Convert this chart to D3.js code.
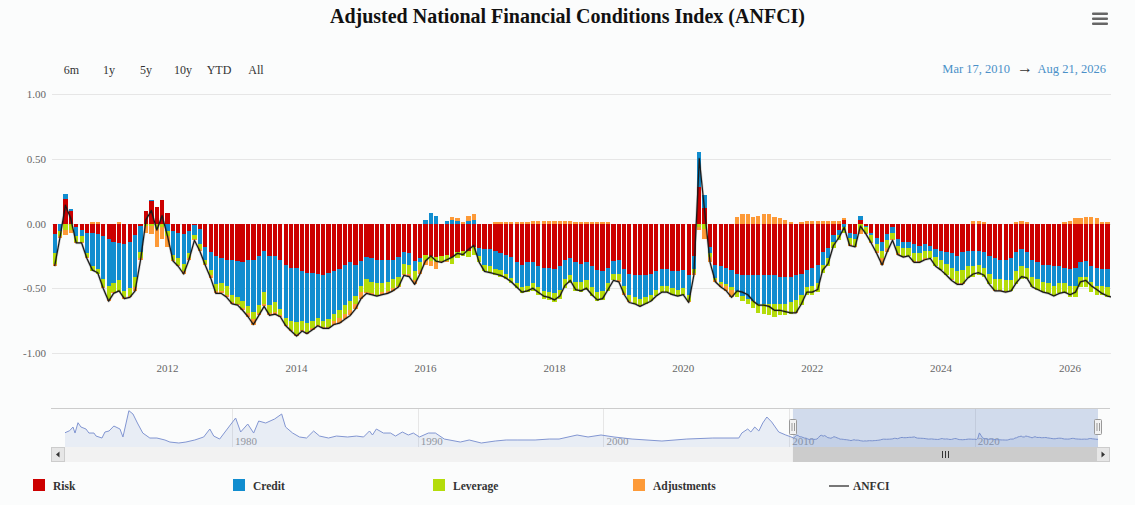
<!DOCTYPE html>
<html>
<head>
<meta charset="utf-8">
<script src="https://cdn.jsdelivr.net/npm/d3@7"></script>
<style>
  body { margin: 0; background: #fbfcfc; }
  svg { display: block; font-family: "Liberation Serif", "DejaVu Serif", serif; }
</style>
</head>
<body>
<div id="chart"></div>
<script>
// Monthly contributions to the ANFCI, Mar 2010 .. Aug 2026
const riskValues = [
  -0.08, 0.00, 0.19, 0.10, -0.03, -0.05, -0.07, -0.07, -0.08, -0.10,
  -0.12, -0.14, -0.15, -0.16, -0.14, -0.09, -0.02, 0.10, 0.17, 0.13, 0.18, 0.08,
  -0.06, -0.07, -0.08, -0.06, -0.01, -0.04, -0.18, -0.22, -0.25, -0.27, -0.28, -0.28,
  -0.29, -0.30, -0.28, -0.28, -0.25, -0.21, -0.25, -0.25, -0.28, -0.32, -0.34, -0.34,
  -0.37, -0.38, -0.38, -0.39, -0.40, -0.38, -0.37, -0.35, -0.32, -0.30, -0.32, -0.29,
  -0.26, -0.27, -0.28, -0.28, -0.28, -0.28, -0.26, -0.22, -0.23, -0.29, -0.27, -0.24,
  -0.25, -0.26, -0.25, -0.24, -0.26, -0.22, -0.21, -0.21, -0.18, -0.19, -0.20, -0.20,
  -0.21, -0.23, -0.24, -0.26, -0.30, -0.32, -0.30, -0.30, -0.33, -0.34, -0.34, -0.35,
  -0.33, -0.28, -0.27, -0.30, -0.31, -0.30, -0.33, -0.36, -0.37, -0.34, -0.29, -0.28,
  -0.35, -0.39, -0.40, -0.40, -0.40, -0.39, -0.37, -0.35, -0.35, -0.37, -0.37, -0.36,
  -0.40, -0.25, 0.28, 0.12, -0.18, -0.32, -0.33, -0.34, -0.36, -0.39, -0.40, -0.40,
  -0.40, -0.40, -0.40, -0.40, -0.40, -0.41, -0.41, -0.41, -0.40, -0.39, -0.36, -0.34,
  -0.32, -0.22, -0.19, -0.09, -0.05, 0.03, -0.07, -0.08, 0.03, -0.02, -0.07, -0.11,
  -0.14, -0.08, -0.03, -0.12, -0.14, -0.14, -0.16, -0.17, -0.16, -0.17, -0.20, -0.21,
  -0.22, -0.23, -0.25, -0.22, -0.21, -0.21, -0.21, -0.22, -0.25, -0.27, -0.28, -0.28,
  -0.27, -0.22, -0.20, -0.22, -0.28, -0.30, -0.32, -0.32, -0.33, -0.33, -0.34, -0.35,
  -0.34, -0.30, -0.29, -0.33, -0.34, -0.35, -0.35, -0.36
];
const creditValues = [
  -0.15, -0.06, 0.04, 0.01, -0.07, -0.05, -0.16, -0.26, -0.27, -0.33,
  -0.36, -0.32, -0.29, -0.36, -0.36, -0.32, -0.20, 0.00, 0.01, 0.00, 0.00, -0.06,
  -0.18, -0.20, -0.23, -0.17, -0.08, -0.12, -0.10, -0.14, -0.22, -0.19, -0.20, -0.27,
  -0.28, -0.30, -0.36, -0.40, -0.38, -0.32, -0.38, -0.36, -0.38, -0.41, -0.41, -0.42,
  -0.38, -0.39, -0.37, -0.34, -0.35, -0.36, -0.33, -0.32, -0.31, -0.30, -0.24, -0.19,
  -0.17, -0.18, -0.18, -0.18, -0.17, -0.15, -0.15, -0.09, -0.09, -0.08, -0.03, 0.03,
  0.08, 0.06, 0.00, 0.02, 0.03, 0.02, 0.00, 0.02, 0.03, -0.06, -0.12, -0.13,
  -0.14, -0.13, -0.15, -0.16, -0.16, -0.17, -0.18, -0.16, -0.16, -0.18, -0.19, -0.19,
  -0.18, -0.15, -0.13, -0.15, -0.14, -0.14, -0.16, -0.17, -0.15, -0.12, -0.10, -0.11,
  -0.13, -0.16, -0.17, -0.18, -0.17, -0.16, -0.14, -0.13, -0.13, -0.13, -0.14, -0.14,
  -0.15, -0.10, 0.27, 0.10, -0.05, -0.10, -0.12, -0.13, -0.13, -0.13, -0.16, -0.18,
  -0.20, -0.22, -0.22, -0.22, -0.22, -0.21, -0.21, -0.20, -0.19, -0.16, -0.13, -0.14,
  -0.14, -0.10, -0.08, -0.05, -0.04, -0.03, -0.04, -0.04, 0.03, -0.01, -0.02, -0.05,
  -0.07, -0.05, -0.04, -0.05, -0.05, -0.05, -0.07, -0.06, -0.05, -0.04, -0.06, -0.07,
  -0.09, -0.11, -0.12, -0.14, -0.12, -0.12, -0.11, -0.12, -0.14, -0.16, -0.15, -0.16,
  -0.17, -0.15, -0.13, -0.12, -0.13, -0.13, -0.13, -0.14, -0.15, -0.13, -0.12, -0.13,
  -0.14, -0.11, -0.12, -0.12, -0.14, -0.13, -0.14, -0.14
];
const leverageValues = [
  -0.08, -0.04, -0.05, -0.05, -0.04, -0.04, -0.03, -0.04, -0.04, -0.06,
  -0.10, -0.07, -0.09, -0.05, -0.06, -0.08, -0.05, -0.02, -0.02, -0.04, -0.03, -0.04,
  -0.04, -0.05, -0.06, -0.04, -0.03, -0.04, -0.03, -0.04, -0.05, -0.06, -0.07, -0.06,
  -0.05, -0.05, -0.05, -0.06, -0.06, -0.09, -0.06, -0.07, -0.05, -0.05, -0.07, -0.09,
  -0.07, -0.07, -0.06, -0.05, -0.05, -0.06, -0.05, -0.06, -0.07, -0.07, -0.06, -0.05,
  -0.10, -0.09, -0.09, -0.07, -0.07, -0.07, -0.07, -0.08, -0.07, -0.07, -0.06, -0.04,
  -0.04, -0.04, -0.04, -0.05, -0.05, -0.05, -0.04, -0.05, -0.06, -0.05, -0.05, -0.05,
  -0.05, -0.05, -0.04, -0.04, -0.04, -0.05, -0.05, -0.06, -0.06, -0.06, -0.06, -0.07,
  -0.07, -0.07, -0.06, -0.07, -0.08, -0.07, -0.07, -0.07, -0.07, -0.06, -0.05, -0.05,
  -0.06, -0.05, -0.05, -0.05, -0.05, -0.05, -0.05, -0.05, -0.05, -0.05, -0.05, -0.05,
  -0.05, -0.03, -0.03, -0.04, -0.03, -0.02, -0.02, -0.01, -0.02, -0.05, -0.04, -0.04,
  -0.05, -0.07, -0.08, -0.09, -0.10, -0.09, -0.09, -0.09, -0.09, -0.08, -0.06, -0.07,
  -0.07, -0.06, -0.06, -0.05, -0.04, -0.04, -0.05, -0.05, -0.05, -0.04, -0.05, -0.05,
  -0.06, -0.06, -0.05, -0.06, -0.06, -0.06, -0.06, -0.06, -0.06, -0.06, -0.07, -0.08,
  -0.09, -0.09, -0.09, -0.10, -0.09, -0.08, -0.08, -0.07, -0.08, -0.08, -0.08, -0.08,
  -0.08, -0.10, -0.10, -0.09, -0.08, -0.08, -0.08, -0.08, -0.08, -0.08, -0.08, -0.09,
  -0.09, -0.08, -0.08, -0.08, -0.07, -0.07, -0.08, -0.09
];
const adjustmentValues = [
  -0.02, -0.01, -0.04, -0.02, -0.01, -0.01, -0.01, 0.01, 0.01, -0.01,
  -0.02, -0.01, 0.01, -0.01, -0.01, -0.03, -0.01, -0.05, -0.06, -0.14, -0.09, -0.08,
  -0.01, -0.01, -0.02, -0.01, -0.01, -0.01, -0.01, -0.02, -0.02, -0.02, -0.02, -0.01,
  -0.01, -0.02, -0.03, -0.04, -0.02, -0.02, -0.02, -0.02, -0.01, -0.01, -0.01, -0.02,
  -0.01, -0.01, -0.01, -0.01, -0.01, -0.01, -0.03, -0.04, -0.04, -0.04, -0.04, -0.05,
  -0.01, -0.01, -0.01, -0.02, -0.02, -0.02, -0.01, -0.01, -0.02, -0.03, -0.03, -0.04,
  -0.04, -0.05, -0.01, -0.01, 0.02, 0.02, 0.01, 0.04, 0.04, 0.00, 0.00, 0.00,
  0.01, 0.01, 0.01, 0.01, 0.01, 0.01, 0.01, 0.02, 0.02, 0.02, 0.02, 0.02,
  0.02, 0.02, 0.02, 0.01, 0.01, 0.01, 0.01, 0.01, 0.01, 0.01, 0.00, -0.01,
  -0.01, -0.01, 0.00, -0.01, 0.00, 0.00, 0.00, 0.00, 0.00, 0.00, 0.00, 0.00,
  -0.01, -0.02, -0.02, -0.08, -0.04, -0.01, -0.02, -0.04, -0.06, 0.05, 0.07, 0.07,
  0.05, 0.06, 0.07, 0.07, 0.05, 0.04, 0.03, 0.01, -0.01, 0.01, 0.02, 0.02,
  0.02, 0.02, 0.02, 0.02, 0.02, 0.01, -0.01, -0.01, -0.03, -0.01, -0.01, -0.02,
  -0.05, -0.03, -0.01, -0.01, -0.01, 0.00, -0.01, -0.01, -0.01, 0.00, 0.00, 0.00,
  0.00, -0.01, -0.01, -0.01, 0.00, 0.02, 0.02, 0.01, 0.00, -0.01, -0.01, -0.01,
  0.00, 0.01, 0.02, 0.01, 0.00, 0.00, 0.00, 0.00, 0.00, 0.00, 0.01, 0.02,
  0.04, 0.04, 0.05, 0.05, 0.04, 0.01, 0.01, 0.02
];
const anfciValues = [
  -0.33, -0.11, 0.14, 0.04, -0.15, -0.15, -0.27, -0.36, -0.38, -0.50,
  -0.60, -0.54, -0.52, -0.58, -0.57, -0.52, -0.28, 0.03, 0.10, -0.05, 0.06, -0.10,
  -0.29, -0.33, -0.39, -0.28, -0.13, -0.21, -0.32, -0.42, -0.54, -0.54, -0.57, -0.62,
  -0.63, -0.67, -0.72, -0.78, -0.71, -0.64, -0.71, -0.70, -0.72, -0.79, -0.83, -0.87,
  -0.83, -0.85, -0.82, -0.79, -0.81, -0.81, -0.78, -0.77, -0.74, -0.71, -0.66, -0.58,
  -0.54, -0.55, -0.56, -0.55, -0.54, -0.52, -0.49, -0.40, -0.41, -0.47, -0.39, -0.29,
  -0.25, -0.29, -0.30, -0.28, -0.26, -0.23, -0.24, -0.20, -0.17, -0.30, -0.37, -0.38,
  -0.39, -0.40, -0.42, -0.45, -0.49, -0.53, -0.52, -0.50, -0.53, -0.56, -0.57, -0.59,
  -0.56, -0.48, -0.44, -0.51, -0.52, -0.50, -0.55, -0.59, -0.58, -0.51, -0.44, -0.45,
  -0.55, -0.61, -0.62, -0.64, -0.62, -0.60, -0.56, -0.53, -0.53, -0.55, -0.56, -0.55,
  -0.61, -0.40, 0.50, 0.10, -0.30, -0.45, -0.49, -0.52, -0.57, -0.52, -0.53, -0.55,
  -0.60, -0.63, -0.63, -0.64, -0.67, -0.67, -0.68, -0.69, -0.69, -0.62, -0.53, -0.53,
  -0.51, -0.36, -0.31, -0.17, -0.11, -0.03, -0.17, -0.18, -0.02, -0.08, -0.15, -0.23,
  -0.32, -0.22, -0.13, -0.24, -0.26, -0.25, -0.30, -0.30, -0.28, -0.27, -0.33, -0.36,
  -0.40, -0.44, -0.47, -0.47, -0.42, -0.39, -0.38, -0.40, -0.47, -0.52, -0.52, -0.53,
  -0.52, -0.46, -0.41, -0.42, -0.49, -0.51, -0.53, -0.54, -0.56, -0.54, -0.53, -0.55,
  -0.53, -0.45, -0.44, -0.48, -0.51, -0.54, -0.56, -0.57
];

// Navigator history before 2010 (decimal year, ANFCI)
const navYears = [
  1971.00, 1971.25, 1971.43, 1971.54, 1971.70, 1971.86, 1972.13, 1972.29, 1972.56, 1972.67, 1972.99,
  1973.15, 1973.37, 1973.63, 1973.96, 1974.12, 1974.44, 1974.66, 1974.90, 1975.19, 1975.57, 1975.95,
  1976.38, 1976.65, 1977.13, 1977.51, 1977.99, 1978.47, 1978.80, 1979.01, 1979.33, 1979.82,
  1980.19, 1980.46, 1980.84, 1981.16, 1981.43, 1981.81, 1982.29, 1982.67, 1982.88, 1983.26, 1983.63,
  1984.01, 1984.39, 1984.71, 1985.19, 1985.62, 1986.22, 1986.70, 1987.08, 1987.40, 1987.56, 1987.77,
  1988.15, 1988.53, 1988.80, 1989.17, 1989.49, 1989.76, 1990.09, 1990.57, 1990.95, 1991.43,
  1992.29, 1992.77, 1993.42, 1994.17, 1994.76, 1995.35, 1996.32, 1997.08, 1997.61, 1998.58,
  1999.17, 1999.87, 2000.57, 2001.54, 2003.15, 2004.49, 2005.89, 2007.29, 2007.45, 2007.77,
  2007.94, 2008.15, 2008.37, 2008.58, 2008.80, 2009.06, 2009.44, 2009.82
];
const navValues = [
  0.53, 0.87, 1.48, 0.48, 2.20, 1.48, 1.15, 0.48, 0.48, -0.02, -0.35,
  0.65, 0.82, 1.65, 1.15, -0.18, 4.20, 3.65, 2.15, 0.48, -0.35, -0.35,
  -0.68, -1.02, -1.18, -1.02, -0.68, -0.18, 1.15, -0.02, -0.52, 1.48,
  2.98, 0.65, 1.98, 0.48, 2.48, 2.15, 2.82, 3.65, 1.48, 0.48, -0.18,
  -0.35, 0.82, -0.02, -0.35, -0.02, -0.18, -0.02, -0.18, 0.82, 0.15, 1.15,
  0.48, 0.48, -0.02, 0.65, 0.15, 0.48, -0.18, 0.48, 0.48, -0.52,
  -1.02, -0.68, -1.18, -0.85, -0.68, -0.68, -0.68, -0.52, -0.52, 0.15,
  -0.18, 0.15, -0.18, -0.52, -0.85, -0.52, -0.35, -0.35, 0.48, 1.15,
  0.65, 1.48, 0.82, 2.15, 3.15, 2.32, 0.65, 0.15
];

const seriesKeys = ['risk', 'credit', 'leverage', 'adjustments'];
const seriesNames = ['Risk', 'Credit', 'Leverage', 'Adjustments'];
const seriesColors = ['#cc0000', '#118dcf', '#b4dc0a', '#fd9a38'];
const yTicks = [1.00, 0.50, 0.00, -0.50, -1.00];
const xTickYears = [2012, 2014, 2016, 2018, 2020, 2022, 2024, 2026];
const navTickYears = [1980, 1990, 2000, 2010, 2020];
const rangeButtons = ['6m', '1y', '5y', '10y', 'YTD', 'All'];
const rangeStart = new Date(2010, 2, 17);
const rangeEnd = new Date(2026, 7, 21);

document.addEventListener('DOMContentLoaded', function() {
  const W = 1135, H = 505;
  const plot = { left: 52, right: 1111, top: 94, bottom: 353 };
  const nav = { left: 65, right: 1098, top: 408, bottom: 447 };

  const svg = d3.select('#chart').append('svg')
    .attr('width', W)
    .attr('height', H);

  svg.append('rect').attr('width', W).attr('height', H).attr('fill', '#fbfcfc');

  // months, observation plotted at month end
  const months = d3.timeMonth.range(new Date(2010, 2, 1), new Date(2026, 8, 1));
  const rows = months.map((m, i) => ({
    date: d3.timeMonth.offset(m, 1),
    risk: riskValues[i],
    credit: creditValues[i],
    leverage: leverageValues[i],
    adjustments: adjustmentValues[i],
    anfci: anfciValues[i]
  }));

  const x = d3.scaleTime().domain([rangeStart, rangeEnd]).range([plot.left, plot.right]);
  const y = d3.scaleLinear().domain([-1, 1]).range([plot.bottom, plot.top]);

  // Title + menu
  svg.append('text')
    .attr('x', W / 2)
    .attr('y', 23)
    .attr('text-anchor', 'middle')
    .style('font-size', '20px')
    .style('font-weight', 'bold')
    .style('fill', '#111')
    .text('Adjusted National Financial Conditions Index (ANFCI)');

  svg.selectAll('.menu-bar')
    .data([0, 1, 2])
    .enter().append('rect')
    .attr('x', 1092).attr('y', d => 12.5 + d * 5)
    .attr('width', 16).attr('height', 2.6).attr('rx', 1)
    .attr('fill', '#666');

  // Range selector
  const btnX = [71.5, 109, 146, 183, 219, 256];
  svg.selectAll('.range-btn')
    .data(rangeButtons)
    .enter().append('text')
    .attr('x', (d, i) => btnX[i])
    .attr('y', 74)
    .attr('text-anchor', 'middle')
    .style('font-size', '12px')
    .style('fill', '#333')
    .text(d => d);

  const fmtDate = d3.timeFormat('%b %d, %Y');
  svg.append('text')
    .attr('x', 1010).attr('y', 73)
    .attr('text-anchor', 'end')
    .style('font-size', '12.5px').style('fill', '#4a90c8')
    .text(fmtDate(rangeStart));
  svg.append('text')
    .attr('x', 1025).attr('y', 73)
    .attr('text-anchor', 'middle')
    .style('font-size', '16px').style('fill', '#333')
    .text('\u2192');
  svg.append('text')
    .attr('x', 1106).attr('y', 73)
    .attr('text-anchor', 'end')
    .style('font-size', '12.5px').style('fill', '#4a90c8')
    .text(fmtDate(rangeEnd));

  // Grid + y labels
  svg.append('g').selectAll('line')
    .data(yTicks)
    .enter().append('line')
    .attr('x1', plot.left).attr('x2', plot.right)
    .attr('y1', d => Math.round(y(d)) + 0.5).attr('y2', d => Math.round(y(d)) + 0.5)
    .attr('stroke', '#e6e6e6');

  svg.append('g').selectAll('text')
    .data(yTicks)
    .enter().append('text')
    .attr('x', 46)
    .attr('y', d => y(d) + 4)
    .attr('text-anchor', 'end')
    .style('font-size', '11px')
    .style('fill', '#666')
    .text(d => d.toFixed(2));

  svg.append('g').selectAll('text')
    .data(xTickYears)
    .enter().append('text')
    .attr('x', d => x(new Date(d, 0, 1)))
    .attr('y', 372)
    .attr('text-anchor', 'middle')
    .style('font-size', '11px')
    .style('fill', '#666')
    .text(d => d);

  // Clip
  svg.append('clipPath').attr('id', 'plot-clip')
    .append('rect')
    .attr('x', plot.left).attr('y', 60)
    .attr('width', plot.right - plot.left).attr('height', 320);

  const g = svg.append('g').attr('clip-path', 'url(#plot-clip)');

  // Stacked columns
  const stack = d3.stack().keys(seriesKeys).offset(d3.stackOffsetDiverging);
  const layers = stack(rows);
  const step = x(rows[1].date) - x(rows[0].date);
  const barW = step - 1;

  g.selectAll('.layer')
    .data(layers)
    .enter().append('g')
    .attr('fill', (d, i) => seriesColors[i])
    .selectAll('rect')
    .data(d => d)
    .enter().append('rect')
    .attr('shape-rendering', 'crispEdges')
    .attr('x', d => Math.round(x(d.data.date) - barW / 2))
    .attr('width', d => Math.round(x(d.data.date) + barW / 2) - Math.round(x(d.data.date) - barW / 2))
    .attr('y', d => y(Math.max(d[0], d[1])))
    .attr('height', d => Math.abs(y(d[0]) - y(d[1])));

  // ANFCI line
  const line = d3.line()
    .x(d => x(d.date))
    .y(d => y(d.anfci));

  g.append('path')
    .datum(rows)
    .attr('d', line)
    .attr('fill', 'none')
    .attr('stroke', 'rgba(0,0,0,0.18)')
    .attr('stroke-width', 2.6)
    .attr('stroke-linejoin', 'round');
  g.append('path')
    .datum(rows)
    .attr('d', line)
    .attr('fill', 'none')
    .attr('stroke', '#1a1a1a')
    .attr('stroke-width', 1.25)
    .attr('stroke-linejoin', 'round');

  // Navigator
  function yearToDate(yr) {
    const base = Math.floor(yr);
    const a = new Date(base, 0, 1), b = new Date(base + 1, 0, 1);
    return new Date(+a + (yr - base) * (b - a));
  }
  const navData = navYears.map((yr, i) => ({ date: yearToDate(yr), value: navValues[i] }))
    .concat(rows.map(r => ({ date: r.date, value: r.anfci })));

  const nx = d3.scaleTime().domain([new Date(1971, 0, 1), rangeEnd]).range([nav.left, nav.right]);
  const ny = d3.scaleLinear().domain(d3.extent(navData, d => d.value)).range([443, 410.7]);

  svg.append('g').selectAll('line')
    .data(navTickYears)
    .enter().append('line')
    .attr('x1', d => Math.round(nx(new Date(d, 0, 1))) + 0.5)
    .attr('x2', d => Math.round(nx(new Date(d, 0, 1))) + 0.5)
    .attr('y1', nav.top).attr('y2', nav.bottom)
    .attr('stroke', '#e6e6e6');

  svg.append('g').selectAll('text')
    .data(navTickYears)
    .enter().append('text')
    .attr('x', d => nx(new Date(d, 0, 1)) + 3)
    .attr('y', 445)
    .style('font-size', '11px')
    .style('fill', '#999')
    .text(d => d);

  const navClip = svg.append('clipPath').attr('id', 'nav-clip');
  navClip.append('rect').attr('x', nav.left).attr('y', nav.top)
    .attr('width', nav.right - nav.left).attr('height', nav.bottom - nav.top);

  const ng = svg.append('g').attr('clip-path', 'url(#nav-clip)');
  ng.append('path')
    .datum(navData)
    .attr('d', d3.area().x(d => nx(d.date)).y0(nav.bottom).y1(d => ny(d.value)))
    .attr('fill', 'rgba(102,133,194,0.12)');
  ng.append('path')
    .datum(navData)
    .attr('d', d3.line().x(d => nx(d.date)).y(d => ny(d.value)))
    .attr('fill', 'none')
    .attr('stroke', '#8296d2')
    .attr('stroke-width', 1);

  const mx0 = nx(rangeStart), mx1 = nx(rangeEnd);
  svg.append('rect')
    .attr('x', mx0).attr('y', nav.top)
    .attr('width', mx1 - mx0).attr('height', nav.bottom - nav.top)
    .attr('fill', 'rgba(102,133,194,0.28)');

  svg.append('line')
    .attr('x1', 51).attr('x2', 1110)
    .attr('y1', nav.top + 0.5).attr('y2', nav.top + 0.5)
    .attr('stroke', '#cccccc');

  // Scrollbar
  svg.append('rect')
    .attr('x', 51).attr('y', 447).attr('width', 1059).attr('height', 15)
    .attr('fill', '#f2f2f2');
  svg.append('rect')
    .attr('x', mx0).attr('y', 447).attr('width', mx1 - mx0).attr('height', 15)
    .attr('fill', '#cccccc');
  const cx = Math.round((mx0 + mx1) / 2);
  svg.append('g').selectAll('line')
    .data([-3, 0, 3])
    .enter().append('line')
    .attr('x1', d => cx + d + 0.5).attr('x2', d => cx + d + 0.5)
    .attr('y1', 451).attr('y2', 458)
    .attr('stroke', '#333');

  [[51, -1], [1096, 1]].forEach(([bx, dir]) => {
    svg.append('rect')
      .attr('x', bx + 0.5).attr('y', 447.5).attr('width', 13).attr('height', 14)
      .attr('fill', '#e6e6e6').attr('stroke', '#cccccc');
    const tx = bx + 7;
    svg.append('path')
      .attr('d', dir < 0
        ? `M${tx + 1.5},451.5 L${tx - 2},454.5 L${tx + 1.5},457.5 Z`
        : `M${tx - 1.5},451.5 L${tx + 2},454.5 L${tx - 1.5},457.5 Z`)
      .attr('fill', '#333');
  });

  // Navigator handles
  [mx0, mx1].forEach(hx => {
    const h = svg.append('g').attr('transform', `translate(${Math.round(hx)},0)`);
    h.append('rect')
      .attr('x', -3.5).attr('y', 419.5).attr('width', 7).attr('height', 15).attr('rx', 1)
      .attr('fill', '#f2f2f2').attr('stroke', '#999');
    h.append('line').attr('x1', -1).attr('x2', -1).attr('y1', 423).attr('y2', 431).attr('stroke', '#999');
    h.append('line').attr('x1', 1.5).attr('x2', 1.5).attr('y1', 423).attr('y2', 431).attr('stroke', '#999');
  });

  // Legend
  const legendX = [33, 233, 433, 633];
  seriesNames.forEach((name, i) => {
    svg.append('rect')
      .attr('x', legendX[i]).attr('y', 479)
      .attr('width', 12).attr('height', 12)
      .attr('fill', seriesColors[i]);
    svg.append('text')
      .attr('x', legendX[i] + 20).attr('y', 490)
      .style('font-size', '11.5px').style('font-weight', 'bold').style('fill', '#333')
      .text(name);
  });
  svg.append('line')
    .attr('x1', 829).attr('x2', 849).attr('y1', 486).attr('y2', 486)
    .attr('stroke', '#777').attr('stroke-width', 2);
  svg.append('text')
    .attr('x', 853).attr('y', 490)
    .style('font-size', '11.5px').style('font-weight', 'bold').style('fill', '#333')
    .text('ANFCI');
});
</script>
</body>
</html>
